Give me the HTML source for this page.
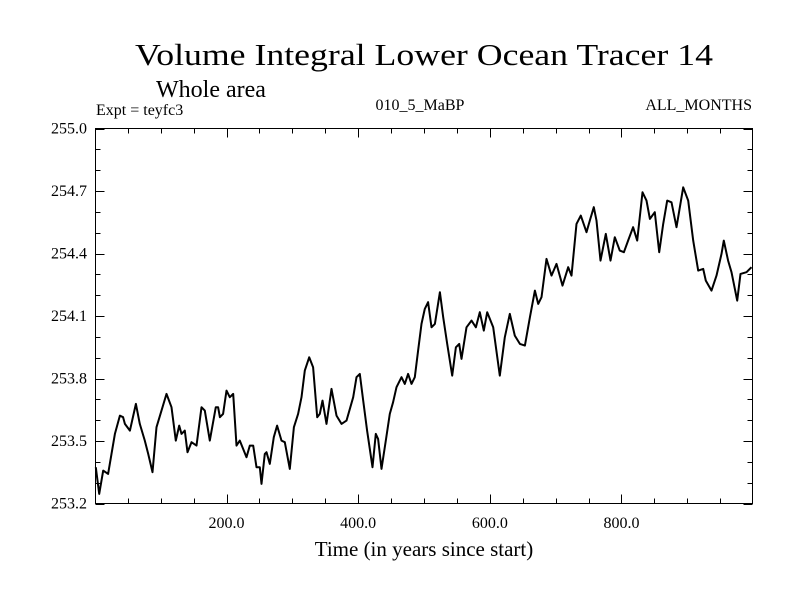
<!DOCTYPE html>
<html><head><meta charset="utf-8"><style>
body{margin:0;background:#fff;}
svg{display:block;font-family:"Liberation Serif",serif;}
</style></head><body>
<svg id="chart" width="800" height="600" viewBox="0 0 800 600">
<text x="424" y="65" font-size="31" text-anchor="middle" textLength="578" lengthAdjust="spacingAndGlyphs">Volume Integral Lower Ocean Tracer 14</text>
<text x="156" y="97" font-size="24">Whole area</text>
<text x="96" y="115" font-size="16">Expt = teyfc3</text>
<text x="420" y="110" font-size="16" text-anchor="middle">010_5_MaBP</text>
<text x="752" y="110" font-size="16" text-anchor="end">ALL_MONTHS</text>
<text x="424" y="556" font-size="21" text-anchor="middle">Time (in years since start)</text>
<g id="axes"></g>
<path id="series" fill="none" stroke="#000" stroke-width="2" stroke-linejoin="round"></path>
<rect x="95.5" y="128.5" width="657" height="375" fill="none" stroke="#000" stroke-width="1"></rect>
</svg>
<script>
const years=[1.5,6.6,12.7,20.2,25.3,30.4,38.0,43.0,45.6,53.2,62.3,68.3,75.9,81.0,87.6,93.7,101.3,108.8,116.4,123.0,128.1,131.6,136.7,140.7,146.8,154.4,162.0,167.1,174.7,183.8,187.3,189.9,194.9,200.0,205.0,210.1,215.2,220.2,230.4,235.4,240.5,245.6,250.6,253.1,258.2,260.7,265.8,271.9,276.9,283.5,288.6,296.2,302.3,308.8,313.9,319.0,325.6,331.6,337.7,341.7,345.8,351.9,359.5,367.1,374.7,382.3,392.4,397.4,402.5,407.6,413.6,421.7,426.8,430.3,435.4,442.0,448.1,453.1,458.2,465.8,470.9,475.9,481.0,486.1,491.1,496.2,501.2,506.3,511.4,516.5,524.1,529.1,535.2,542.8,548.4,553.4,557.0,564.6,572.2,578.8,584.8,590.9,596.0,605.1,615.2,622.8,630.4,638.0,645.6,653.2,660.8,668.4,673.4,678.5,686.1,693.7,701.3,710.4,719.0,724.1,731.7,738.2,746.9,751.9,758.0,762.0,768.1,776.2,783.3,789.9,797.5,803.6,810.1,817.7,823.8,831.9,838.0,843.1,850.6,857.2,863.3,869.4,875.9,883.6,893.7,901.3,908.9,916.5,924.1,928.1,936.7,944.3,951.9,955.4,962.0,967.1,975.7,980.8,989.9,997.5];
const values=[253.374,253.246,253.358,253.342,253.438,253.534,253.622,253.614,253.582,253.550,253.678,253.582,253.502,253.438,253.350,253.566,253.646,253.726,253.662,253.502,253.574,253.534,253.550,253.446,253.494,253.478,253.662,253.646,253.502,253.662,253.662,253.614,253.630,253.742,253.710,253.726,253.478,253.502,253.422,253.478,253.478,253.374,253.374,253.294,253.438,253.446,253.390,253.518,253.574,253.502,253.494,253.366,253.566,253.630,253.710,253.838,253.902,253.854,253.614,253.630,253.694,253.582,253.750,253.622,253.582,253.598,253.710,253.806,253.822,253.694,253.550,253.374,253.534,253.510,253.366,253.502,253.630,253.686,253.758,253.806,253.774,253.822,253.774,253.806,253.934,254.062,254.134,254.166,254.046,254.062,254.214,254.094,253.966,253.814,253.950,253.966,253.894,254.046,254.078,254.046,254.118,254.030,254.118,254.046,253.814,253.998,254.110,254.006,253.966,253.958,254.094,254.222,254.158,254.190,254.374,254.294,254.350,254.246,254.334,254.294,254.542,254.582,254.502,254.558,254.622,254.558,254.366,254.494,254.366,254.478,254.414,254.406,254.462,254.526,254.462,254.694,254.654,254.566,254.598,254.406,254.542,254.654,254.646,254.526,254.718,254.654,254.462,254.318,254.326,254.270,254.222,254.294,254.398,254.462,254.366,254.310,254.174,254.302,254.310,254.334];
const xTickLabels=["200.0","400.0","600.0","800.0"];
const yTickLabels=["253.2","253.5","253.8","254.1","254.4","254.7","255.0"];
const X0=1,X1=999,Y0=253.2,Y1=255.0,L=95.5,R=752.5,T=128.5,B=503.5;
function sx(v){return L+(v-X0)/(X1-X0)*(R-L);}
function sy(v){return B-(v-Y0)/(Y1-Y0)*(B-T);}
const NS="http://www.w3.org/2000/svg";
const ax=document.getElementById('axes');
function line(x1,y1,x2,y2,name){const l=document.createElementNS(NS,'line');l.setAttribute('x1',x1);l.setAttribute('y1',y1);l.setAttribute('x2',x2);l.setAttribute('y2',y2);l.setAttribute('stroke','#000');l.setAttribute('stroke-width','1');


ax.appendChild(l);}
function text(x,y,s,anchor,name){const t=document.createElementNS(NS,'text');t.setAttribute('x',x);t.setAttribute('y',y);t.setAttribute('font-size','16');t.setAttribute('text-anchor',anchor);t.textContent=s;


ax.appendChild(t);}
for(let v=50;v<1000;v+=50){const x=Math.round(sx(v))+0.5;const len=(v%200===0)?9:5;line(x,B,x,B-len,'x-tick');line(x,T,x,T+len,'x-tick-top');}
xTickLabels.forEach(s=>{text(sx(parseFloat(s)),528,s,'middle','x-tick-label');});
for(let i=0;i<=18;i++){const v=Y0+i*0.1;const y=Math.round(sy(v))+0.5;const len=(i%3===0)?9:5;line(L,y,L+len,y,'y-tick');line(R,y,R-len,y,'y-tick-right');}
yTickLabels.forEach(s=>{text(87,sy(parseFloat(s))+5,s,'end','y-tick-label');});
let d='';values.forEach((v,i)=>{d+=(i?'L':'M')+sx(years[i]).toFixed(1)+' '+sy(v).toFixed(1);});
document.getElementById('series').setAttribute('d',d);
</script>
</body></html>
